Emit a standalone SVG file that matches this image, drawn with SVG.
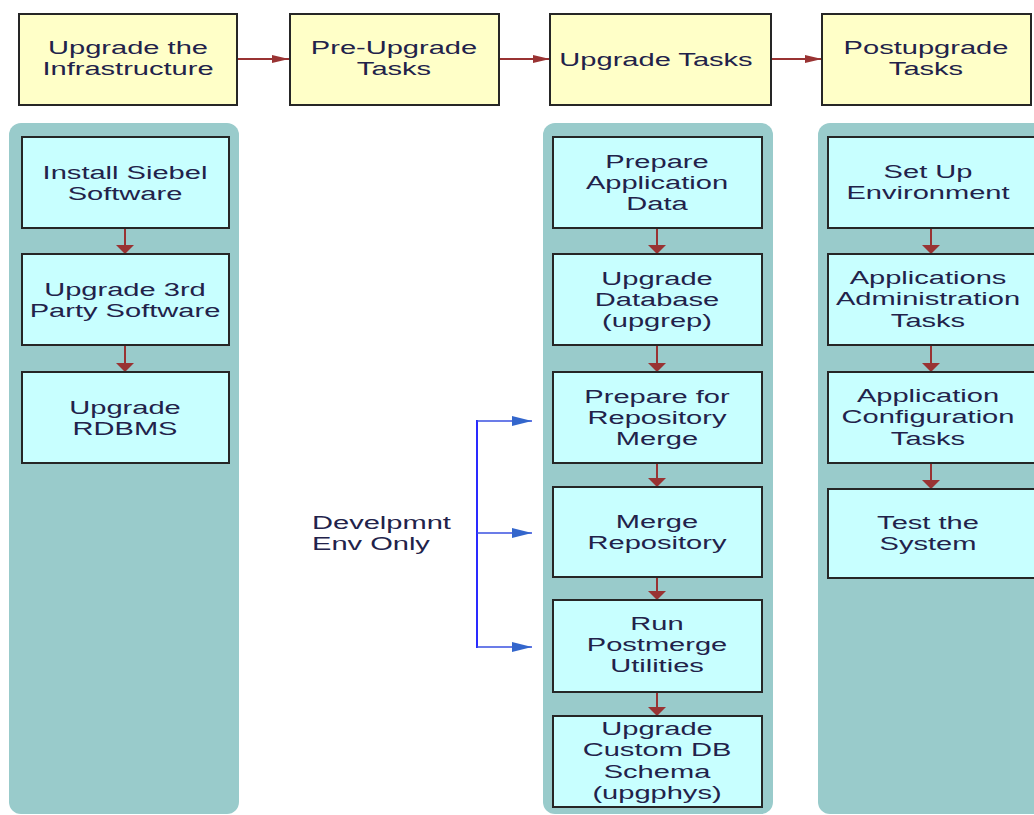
<svg xmlns="http://www.w3.org/2000/svg" width="1034" height="815" viewBox="0 0 1034 815">
<style>
.panel{fill:#99cbcb;stroke:none}
.top{fill:#ffffc8;stroke:#262626;stroke-width:2}
.box{fill:#c8ffff;stroke:#262626;stroke-width:2}
.t{font-family:"Liberation Sans",Arial,sans-serif;font-size:19px;fill:#22224a;text-anchor:middle}
.l{text-anchor:start}
.ra{stroke:#993333;stroke-width:2;fill:none}
.ba{stroke:#3a50e0;stroke-width:1.5;fill:none}
</style>
<defs>
<marker id="rh" markerUnits="userSpaceOnUse" markerWidth="17" markerHeight="8" refX="17" refY="4" orient="auto"><path d="M0,0 L17,4 L0,8 z" fill="#993333"/></marker>
<marker id="rv" markerUnits="userSpaceOnUse" markerWidth="9" markerHeight="18" refX="9" refY="9" orient="auto"><path d="M0,0 L9,9 L0,18 z" fill="#993333"/></marker>
<marker id="bh" markerUnits="userSpaceOnUse" markerWidth="20" markerHeight="10" refX="20" refY="5" orient="auto"><path d="M0,0 L20,5 L0,10 z" fill="#3366cc"/></marker>
</defs>

<g id="lanes">
<rect class="panel" x="9" y="123" width="230" height="691" rx="12"/>
<rect class="panel" x="543" y="123" width="230" height="691" rx="12"/>
<rect class="panel" x="818" y="123" width="240" height="691" rx="12"/>
</g>

<g id="connectors">
<line class="ra" x1="237" y1="59" x2="289" y2="59" marker-end="url(#rh)"/>
<line class="ra" x1="499" y1="59" x2="550" y2="59" marker-end="url(#rh)"/>
<line class="ra" x1="771" y1="59" x2="822" y2="59" marker-end="url(#rh)"/>
<line class="ra" x1="125" y1="228" x2="125" y2="254" marker-end="url(#rv)"/>
<line class="ra" x1="125" y1="345" x2="125" y2="372" marker-end="url(#rv)"/>
<line class="ra" x1="657" y1="228" x2="657" y2="254" marker-end="url(#rv)"/>
<line class="ra" x1="657" y1="345" x2="657" y2="372" marker-end="url(#rv)"/>
<line class="ra" x1="657" y1="463" x2="657" y2="487" marker-end="url(#rv)"/>
<line class="ra" x1="657" y1="577" x2="657" y2="600" marker-end="url(#rv)"/>
<line class="ra" x1="657" y1="692" x2="657" y2="716" marker-end="url(#rv)"/>
<line class="ra" x1="931" y1="228" x2="931" y2="254" marker-end="url(#rv)"/>
<line class="ra" x1="931" y1="345" x2="931" y2="372" marker-end="url(#rv)"/>
<line class="ra" x1="931" y1="463" x2="931" y2="489" marker-end="url(#rv)"/>
<line x1="477" y1="420" x2="477" y2="648" stroke="#2a2aff" stroke-width="2"/>
<line class="ba" x1="477" y1="421" x2="532" y2="421" marker-end="url(#bh)"/>
<line class="ba" x1="477" y1="533" x2="532" y2="533" marker-end="url(#bh)"/>
<line class="ba" x1="477" y1="647" x2="532" y2="647" marker-end="url(#bh)"/>
</g>

<g id="upgrade-infrastructure">
<rect class="top" x="19" y="14" width="218" height="91"/>
<g transform="translate(128 0) scale(1.53 1)"><text class="t"><tspan x="0" y="54">Upgrade the</tspan><tspan x="0" y="75">Infrastructure</tspan></text></g>
</g>
<g id="pre-upgrade-tasks">
<rect class="top" x="290" y="14" width="209" height="91"/>
<g transform="translate(394 0) scale(1.53 1)"><text class="t"><tspan x="0" y="54">Pre-Upgrade</tspan><tspan x="0" y="75">Tasks</tspan></text></g>
</g>
<g id="upgrade-tasks">
<rect class="top" x="550" y="14" width="221" height="91"/>
<g transform="translate(656 0) scale(1.53 1)"><text class="t"><tspan x="0" y="66">Upgrade Tasks</tspan></text></g>
</g>
<g id="postupgrade-tasks">
<rect class="top" x="822" y="14" width="209" height="91"/>
<g transform="translate(926 0) scale(1.53 1)"><text class="t"><tspan x="0" y="54">Postupgrade</tspan><tspan x="0" y="75">Tasks</tspan></text></g>
</g>

<g id="install-siebel">
<rect class="box" x="22" y="137" width="207" height="91"/>
<g transform="translate(125 0) scale(1.53 1)"><text class="t"><tspan x="0" y="179">Install Siebel</tspan><tspan x="0" y="200">Software</tspan></text></g>
</g>
<g id="upgrade-3rd-party">
<rect class="box" x="22" y="254" width="207" height="91"/>
<g transform="translate(125 0) scale(1.53 1)"><text class="t"><tspan x="0" y="296">Upgrade 3rd</tspan><tspan x="0" y="317">Party Software</tspan></text></g>
</g>
<g id="upgrade-rdbms">
<rect class="box" x="22" y="372" width="207" height="91"/>
<g transform="translate(125 0) scale(1.53 1)"><text class="t"><tspan x="0" y="414">Upgrade</tspan><tspan x="0" y="435">RDBMS</tspan></text></g>
</g>

<g id="prepare-app-data">
<rect class="box" x="553" y="137" width="209" height="91"/>
<g transform="translate(657 0) scale(1.53 1)"><text class="t"><tspan x="0" y="168">Prepare</tspan><tspan x="0" y="189">Application</tspan><tspan x="0" y="210">Data</tspan></text></g>
</g>
<g id="upgrade-database">
<rect class="box" x="553" y="254" width="209" height="91"/>
<g transform="translate(657 0) scale(1.53 1)"><text class="t"><tspan x="0" y="285">Upgrade</tspan><tspan x="0" y="306">Database</tspan><tspan x="0" y="327">(upgrep)</tspan></text></g>
</g>
<g id="prepare-repository-merge">
<rect class="box" x="553" y="372" width="209" height="91"/>
<g transform="translate(657 0) scale(1.53 1)"><text class="t"><tspan x="0" y="403">Prepare for</tspan><tspan x="0" y="424">Repository</tspan><tspan x="0" y="445">Merge</tspan></text></g>
</g>
<g id="merge-repository">
<rect class="box" x="553" y="487" width="209" height="90"/>
<g transform="translate(657 0) scale(1.53 1)"><text class="t"><tspan x="0" y="528">Merge</tspan><tspan x="0" y="549">Repository</tspan></text></g>
</g>
<g id="run-postmerge">
<rect class="box" x="553" y="600" width="209" height="92"/>
<g transform="translate(657 0) scale(1.53 1)"><text class="t"><tspan x="0" y="630">Run</tspan><tspan x="0" y="651">Postmerge</tspan><tspan x="0" y="672">Utilities</tspan></text></g>
</g>
<g id="upgrade-custom-db">
<rect class="box" x="553" y="716" width="209" height="91"/>
<g transform="translate(657 0) scale(1.53 1)"><text class="t"><tspan x="0" y="735">Upgrade</tspan><tspan x="0" y="756">Custom DB</tspan><tspan x="0" y="778">Schema</tspan><tspan x="0" y="799">(upgphys)</tspan></text></g>
</g>

<g id="setup-environment">
<rect class="box" x="828" y="137" width="215" height="91"/>
<g transform="translate(928 0) scale(1.53 1)"><text class="t"><tspan x="0" y="178">Set Up</tspan><tspan x="0" y="199">Environment</tspan></text></g>
</g>
<g id="app-admin-tasks">
<rect class="box" x="828" y="254" width="215" height="91"/>
<g transform="translate(928 0) scale(1.53 1)"><text class="t"><tspan x="0" y="284">Applications</tspan><tspan x="0" y="305">Administration</tspan><tspan x="0" y="327">Tasks</tspan></text></g>
</g>
<g id="app-config-tasks">
<rect class="box" x="828" y="372" width="215" height="91"/>
<g transform="translate(928 0) scale(1.53 1)"><text class="t"><tspan x="0" y="402">Application</tspan><tspan x="0" y="423">Configuration</tspan><tspan x="0" y="445">Tasks</tspan></text></g>
</g>
<g id="test-system">
<rect class="box" x="828" y="489" width="215" height="89"/>
<g transform="translate(928 0) scale(1.53 1)"><text class="t"><tspan x="0" y="529">Test the</tspan><tspan x="0" y="550">System</tspan></text></g>
</g>

<g id="dev-env-label">
<g transform="translate(312 0) scale(1.53 1)"><text class="t l"><tspan x="0" y="529">Develpmnt</tspan><tspan x="0" y="550">Env Only</tspan></text></g>
</g>
</svg>
